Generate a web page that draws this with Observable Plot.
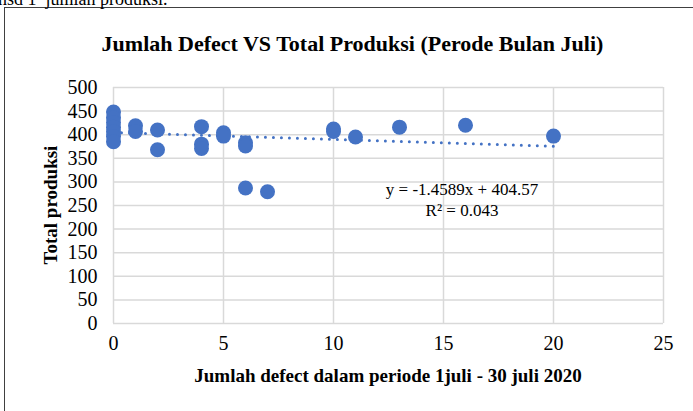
<!DOCTYPE html>
<html>
<head>
<meta charset="utf-8">
<script src="https://cdn.jsdelivr.net/npm/d3@7"></script>
<script src="https://cdn.jsdelivr.net/npm/@observablehq/plot@0.6"></script>
<style>
  html, body { margin: 0; padding: 0; background: #fff; overflow: hidden; }
  #wrap { position: relative; width: 693px; height: 411px; font-family: "Liberation Serif", "Times New Roman", serif; color: #000; }
  .abs { position: absolute; white-space: nowrap; }
  #frame { position: absolute; left: 4px; top: 7px; width: 700px; height: 420px; border-left: 1.5px solid #404040; border-top: 1.5px solid #404040; }
  #title { left: 0; width: 705px; top: 31px; text-align: center; font-weight: bold; font-size: 22px; line-height: 26px; }
  #xtitle { left: 113px; width: 550px; top: 365px; text-align: center; font-weight: bold; font-size: 19px; line-height: 22px; }
  #ytitle { left: 51px; top: 205px; font-weight: bold; font-size: 19px; transform: translate(-50%, -50%) rotate(-90deg); }
  #eq { left: 462px; top: 179px; transform: translateX(-50%); font-size: 17px; text-align: center; line-height: 21px; }
  #doc { left: -2px; top: -11px; font-size: 18px; }
</style>
</head>
<body>
<div id="wrap">
  <div id="frame"></div>
  <div class="abs" id="doc">nsd 1&nbsp; jumlah produksi.</div>
  <div id="chart" style="position:absolute;left:0;top:0;"></div>
  <div class="abs" id="title">Jumlah Defect VS Total Produksi (Perode Bulan Juli)</div>
  <div class="abs" id="ytitle">Total produksi</div>
  <div class="abs" id="xtitle">Jumlah defect dalam periode 1juli - 30 juli 2020</div>
  <div class="abs" id="eq">y = -1.4589x + 404.57<br>R² = 0.043</div>
</div>
<script>
const defects  = [0, 0, 0, 0, 0, 0, 0, 1, 1, 2, 2, 4, 4, 4, 5, 5, 6, 6, 6, 7, 10, 10, 11, 13, 16, 20];
const produksi = [448, 436, 426, 416, 406, 396, 385, 419, 407, 410, 368, 417, 380, 371, 404, 397, 383, 376, 287, 279, 412, 407, 395, 416, 420, 397];
const xTicks = [0, 5, 10, 15, 20, 25];
const yTicks = [0, 50, 100, 150, 200, 250, 300, 350, 400, 450, 500];
const slope = -1.4589, intercept = 404.57;
const trendX = [0, 20];

const points = defects.map((d, i) => ({x: d, y: produksi[i]}));
const trend = trendX.map(x => ({x, y: slope * x + intercept}));
const blue = "#4472C4";

const plot = Plot.plot({
  width: 693,
  height: 411,
  marginLeft: 113,
  marginRight: 30,
  marginTop: 87,
  marginBottom: 88,
  style: {fontFamily: "'Liberation Serif', 'Times New Roman', serif", fontSize: "20px", color: "#000", background: "transparent"},
  x: {domain: [0, 25], ticks: xTicks, tickSize: 0, tickPadding: 12, label: null},
  y: {domain: [0, 500], ticks: yTicks, tickSize: 0, tickPadding: 16, label: null},
  marks: [
    Plot.gridX(xTicks, {stroke: "#d9d9d9", strokeOpacity: 1, strokeWidth: 1.5}),
    Plot.gridY(yTicks, {stroke: "#d9d9d9", strokeOpacity: 1, strokeWidth: 1.5}),
    Plot.line(trend, {x: "x", y: "y", stroke: blue, strokeWidth: 3, strokeDasharray: "0 8", strokeLinecap: "round"}),
    Plot.dot(points, {x: "x", y: "y", r: 7.5, fill: blue, stroke: "none"}),
    Plot.axisX(xTicks, {tickSize: 0, tickPadding: 12, label: null, fill: "#000", fontSize: 20}),
    Plot.axisY(yTicks, {tickSize: 0, tickPadding: 16, label: null, fill: "#000", fontSize: 20})
  ]
});
document.getElementById("chart").appendChild(plot);
</script>
</body>
</html>
